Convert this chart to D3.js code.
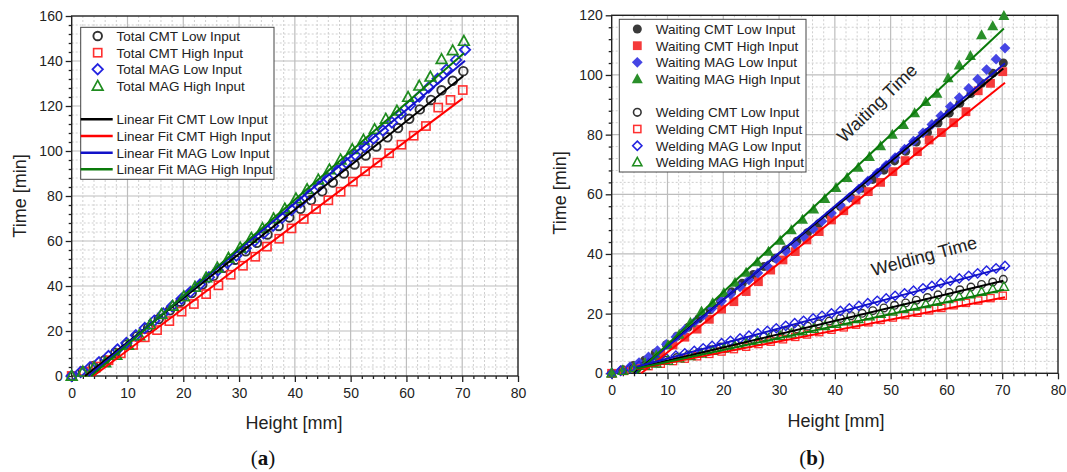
<!DOCTYPE html>
<html><head><meta charset="utf-8">
<script src="https://cdn.jsdelivr.net/npm/d3@7"></script>
<style>body{margin:0;background:#fff}svg{display:block}</style>
</head><body>
<svg id="c" width="1067" height="472"></svg>
<script>
// ---------------- DATA ----------------
const xTicks = [0,10,20,30,40,50,60,70,80];
const yTicksA = [0,20,40,60,80,100,120,140,160];
const yTicksB = [0,20,40,60,80,100,120];

// layer heights [mm]
const hCMTLow  = [0,2.0,3.9,5.9,7.8,9.8,11.7,13.7,15.6,17.6,19.5,21.5,23.4,25.4,27.3,29.3,31.2,33.2,35.1,37.1,39.0,41.0,42.9,44.9,46.8,48.8,50.7,52.7,54.6,56.6,58.5,60.5,62.4,64.4,66.3,68.3,70.2];
const hCMTHigh = [0,2.2,4.4,6.6,8.8,11.0,13.1,15.3,17.5,19.7,21.9,24.1,26.3,28.5,30.7,32.9,35.0,37.2,39.4,41.6,43.8,46.0,48.2,50.4,52.6,54.8,56.9,59.1,61.3,63.5,65.7,67.9,70.1];
const hMAGLow  = [0,1.6,3.3,4.9,6.6,8.2,9.8,11.5,13.1,14.8,16.4,18.0,19.7,21.3,23.0,24.6,26.2,27.9,29.5,31.2,32.8,34.4,36.1,37.7,39.4,41.0,42.6,44.3,45.9,47.6,49.2,50.8,52.5,54.1,55.8,57.4,59.0,60.7,62.3,64.0,65.6,67.2,68.9,70.5];
const hMAGHigh = [0,2.0,4.0,6.0,8.0,10.1,12.1,14.1,16.1,18.1,20.1,22.1,24.1,26.1,28.1,30.2,32.2,34.2,36.2,38.2,40.2,42.2,44.2,46.2,48.2,50.3,52.3,54.3,56.3,58.3,60.3,62.3,64.3,66.3,68.3,70.3];

// (a) total time [min]
const totCMTLow  = [0,2.1,4.4,7.0,10.3,14.0,17.7,21.5,25.3,29.2,33.0,36.9,40.7,44.5,48.1,51.7,55.4,59.2,62.9,66.7,70.5,74.3,78.2,82.1,86.0,90.0,94.0,98.0,102.0,106.1,110.2,114.3,118.5,122.7,127.0,131.2,135.5];
const totCMTHigh = [0,2.0,4.2,7.0,10.1,13.8,17.2,20.4,24.4,28.6,32.0,36.4,40.3,45.0,49.0,53.0,57.5,61.0,65.6,69.8,74.2,78.1,81.9,86.4,91.0,94.8,99.0,102.8,106.8,111.1,119.3,122.7,127.1];
const totMAGLow  = [0,1.8,3.9,6.1,8.9,11.8,14.7,18.1,21.3,24.6,27.8,31.0,34.3,37.4,40.7,43.9,47.0,50.2,53.5,56.8,60.1,63.4,66.8,70.3,73.8,77.2,80.7,84.3,87.9,91.4,94.8,98.3,101.9,105.5,109.1,112.7,116.5,120.4,124.2,128.2,132.1,136.2,140.5,145.0];
const totMAGHigh = [0,1.8,3.7,6.0,9.3,13.7,18.0,22.8,27.4,31.1,35.3,39.5,43.7,48.1,52.4,57.0,61.3,65.6,69.9,74.3,78.8,82.9,87.2,91.7,96.1,100.7,104.9,109.6,114.2,117.8,123.9,128.9,132.9,140.7,144.6,148.8];

// (b) waiting time [min]
const waitCMTLow  = [0,1.2,2.6,4.4,6.8,9.6,12.4,15.4,18.3,21.3,24.2,27.3,30.2,33.1,35.8,38.6,41.4,44.3,47.1,50.1,53.0,55.9,58.9,62.0,65.0,68.1,71.2,74.4,77.5,80.7,83.9,87.2,90.5,93.8,97.2,100.6,104.0];
const waitCMTHigh = [0,1.0,2.0,4.2,6.7,9.5,12.1,14.8,18.1,21.5,24.0,27.4,30.7,34.6,38.0,40.8,44.7,47.5,51.4,54.5,58.1,60.9,64.0,67.6,71.3,74.3,78.2,80.7,84.0,87.7,94.7,97.2,101.1];
const waitMAGLow  = [0,1.0,2.2,3.6,5.5,7.6,9.7,12.2,14.6,17.1,19.4,21.8,24.2,26.5,29.0,31.3,33.6,36.0,38.4,40.9,43.3,45.8,48.4,51.0,53.7,56.3,58.9,61.7,64.4,67.1,69.7,72.3,75.1,77.8,80.6,83.4,86.3,89.4,92.4,95.5,98.6,101.8,105.3,109.0];
const waitMAGHigh = [0,1.0,2.0,3.5,6.0,9.5,13.0,17.0,20.8,23.6,27.0,30.4,33.8,37.3,40.8,44.5,48.0,51.5,55.0,58.5,62.2,65.5,69.0,72.6,76.2,80.0,83.3,87.2,91.0,93.8,99.0,103.2,106.4,113.4,116.4,119.8];

// (b) welding time [min]
const weldCMTLow  = [0,0.9,1.8,2.6,3.5,4.4,5.3,6.1,7.0,7.9,8.8,9.6,10.5,11.4,12.3,13.1,14.0,14.9,15.8,16.6,17.5,18.4,19.3,20.1,21.0,21.9,22.8,23.6,24.5,25.4,26.3,27.1,28.0,28.9,29.8,30.6,31.5];
const weldCMTHigh = [0,0.8,1.6,2.4,3.2,4.1,4.9,5.7,6.5,7.3,8.1,8.9,9.8,10.6,11.4,12.2,13.0,13.8,14.6,15.4,16.3,17.1,17.9,18.7,19.5,20.3,21.1,21.9,22.8,23.6,24.4,25.2,26.0];
const weldMAGLow  = [0,0.8,1.7,2.5,3.4,4.2,5.0,5.9,6.7,7.5,8.4,9.2,10.1,10.9,11.7,12.6,13.4,14.2,15.1,15.9,16.8,17.6,18.4,19.3,20.1,20.9,21.8,22.6,23.5,24.3,25.1,26.0,26.8,27.7,28.5,29.3,30.2,31.0,31.8,32.7,33.5,34.4,35.2,36.0];
const weldMAGHigh = [0,0.8,1.7,2.5,3.3,4.2,5.0,5.8,6.6,7.5,8.3,9.1,9.9,10.8,11.6,12.5,13.3,14.1,14.9,15.8,16.6,17.4,18.2,19.1,19.9,20.7,21.6,22.4,23.2,24.0,24.9,25.7,26.5,27.3,28.2,29.0];

// linear fits: [x start, y start, x end, y end]
const fitTotCMTLow   = [2.4,0,70.2,133.3];
const fitTotCMTHigh  = [3.9,0,70.1,123.4];
const fitTotMAGLow   = [3.0,0,70.5,140.1];
const fitTotMAGHigh  = [3.5,0,70.3,143.4];
const fitWaitCMTLow  = [4.0,0,70.2,102.2];
const fitWaitCMTHigh = [5.3,0,70.5,97.4];
const fitWaitMAGLow  = [4.3,0,70.5,103.9];
const fitWaitMAGHigh = [4.5,0,70.3,115.6];
const fitWeldCMTLow  = [4.5,1.8,70.2,31.0];
const fitWeldCMTHigh = [4.5,1.4,70.5,25.5];
const fitWeldMAGLow  = [4.5,2.2,70.5,35.5];
const fitWeldMAGHigh = [4.5,1.6,70.3,28.0];

const legendA = ["Total CMT Low Input","Total CMT High Input","Total MAG Low Input","Total MAG High Input",
  "Linear Fit CMT Low Input","Linear Fit CMT High Input","Linear Fit MAG Low Input","Linear Fit MAG High Input"];
const legendB = ["Waiting CMT Low Input","Waiting CMT High Input","Waiting MAG Low Input","Waiting MAG High Input",
  "Welding CMT Low Input","Welding CMT High Input","Welding MAG Low Input","Welding MAG High Input"];

// ---------------- STYLE ----------------
const markCol = {black:"#333333", red:"#ff3030", blue:"#2424e0", green:"#1f8c1f"};
const fillCol = {black:"#3a3a3a", red:"#f53a3a", blue:"#4545e4", green:"#2a8f2a"};
const lineCol = {black:"#000000", red:"#ff0000", blue:"#1212c8", green:"#0a7a0a"};
const FONT = "'Liberation Sans', Arial, sans-serif";

const svg = d3.select("#c");

function drawMarker(g, shape, cx, cy, s, stroke, fill, sw){
  let el;
  if(shape==="circle"){
    el = g.append("circle").attr("cx",cx).attr("cy",cy).attr("r",s);
  } else if(shape==="square"){
    el = g.append("rect").attr("x",cx-s).attr("y",cy-s).attr("width",2*s).attr("height",2*s);
  } else if(shape==="diamond"){
    el = g.append("path").attr("d",`M${cx},${cy-s}L${cx+s},${cy}L${cx},${cy+s}L${cx-s},${cy}Z`);
  } else {
    el = g.append("path").attr("d",`M${cx},${cy-s}L${cx+s*0.95},${cy+s*0.72}L${cx-s*0.95},${cy+s*0.72}Z`);
  }
  el.attr("fill",fill).attr("stroke",stroke).attr("stroke-width",sw).attr("stroke-linejoin","miter");
  return el;
}

function drawPanel(cfg){
  const x = d3.scaleLinear().domain([0,80]).range([cfg.left, cfg.right]);
  const y = d3.scaleLinear().domain([0,cfg.ymax]).range([cfg.bottom, cfg.top]);
  const g = svg.append("g");

  // minor grid
  const xMinor = d3.range(0,80.001,2).filter(v=>v%10!==0);
  const yMinor = d3.range(0,cfg.ymax+0.001,4).filter(v=>v%20!==0);
  g.selectAll(".gxm").data(xMinor).join("line")
    .attr("x1",d=>x(d)).attr("x2",d=>x(d)).attr("y1",cfg.top).attr("y2",cfg.bottom)
    .attr("stroke","#cfcfcf").attr("stroke-width",1).attr("stroke-dasharray","2,2");
  g.selectAll(".gym").data(yMinor).join("line")
    .attr("y1",d=>y(d)).attr("y2",d=>y(d)).attr("x1",cfg.left).attr("x2",cfg.right)
    .attr("stroke","#cfcfcf").attr("stroke-width",1).attr("stroke-dasharray","2,2");
  // major grid
  g.selectAll(".gx").data(xTicks.slice(1,-1)).join("line")
    .attr("x1",d=>x(d)).attr("x2",d=>x(d)).attr("y1",cfg.top).attr("y2",cfg.bottom)
    .attr("stroke","#bdbdbd").attr("stroke-width",1.2);
  g.selectAll(".gy").data(cfg.yTicks.slice(1,-1)).join("line")
    .attr("y1",d=>y(d)).attr("y2",d=>y(d)).attr("x1",cfg.left).attr("x2",cfg.right)
    .attr("stroke","#bdbdbd").attr("stroke-width",1.2);

  // axes
  const axB = g.append("g").attr("transform",`translate(0,${cfg.bottom})`)
    .call(d3.axisBottom(x).tickValues(xTicks).tickSize(6).tickPadding(4).tickFormat(d3.format("d")));
  const axBm = g.append("g").attr("transform",`translate(0,${cfg.bottom})`)
    .call(d3.axisBottom(x).tickValues(xMinor).tickSize(3).tickFormat(""));
  const axL = g.append("g").attr("transform",`translate(${cfg.left},0)`)
    .call(d3.axisLeft(y).tickValues(cfg.yTicks).tickSize(6).tickPadding(3).tickFormat(d3.format("d")));
  const axLm = g.append("g").attr("transform",`translate(${cfg.left},0)`)
    .call(d3.axisLeft(y).tickValues(yMinor).tickSize(3).tickFormat(""));
  [axB,axBm,axL,axLm].forEach(a=>{
    a.select(".domain").remove();
    a.selectAll("line").attr("stroke","#222").attr("stroke-width",1.3);
    a.selectAll("text").attr("font-family",FONT).attr("font-size",14).attr("fill","#222");
  });
  axB.selectAll("text").attr("dy","0.85em");

  // frame
  g.append("rect").attr("x",cfg.left).attr("y",cfg.top)
    .attr("width",cfg.right-cfg.left).attr("height",cfg.bottom-cfg.top)
    .attr("fill","none").attr("stroke","#222").attr("stroke-width",1.4);

  // titles
  g.append("text").attr("transform",`translate(${cfg.yTitleX},${cfg.yTitleY}) rotate(-90)`)
    .attr("text-anchor","middle").attr("font-family",FONT).attr("font-size",18).attr("fill","#222")
    .text("Time [min]");
  g.append("text").attr("x",cfg.xTitleX).attr("y",cfg.xTitleY)
    .attr("text-anchor","middle").attr("font-family",FONT).attr("font-size",18).attr("fill","#222")
    .text("Height [mm]");
  g.append("text").attr("x",cfg.capX).attr("y",cfg.capY)
    .attr("text-anchor","middle").attr("font-family","'Liberation Serif','Times New Roman',serif")
    .attr("font-size",21).attr("fill","#111")
    .html(cfg.caption);

  const plot = g.append("g");
  // scatter
  cfg.scatter.forEach(sr=>{
    sr.h.forEach((hv,i)=>{
      drawMarker(plot, sr.shape, x(hv), y(sr.v[i]), sr.size,
        sr.filled ? "none" : markCol[sr.color],
        sr.filled ? fillCol[sr.color] : "none", sr.sw);
    });
  });
  // fits
  cfg.fits.forEach(f=>{
    plot.append("line").attr("x1",x(f.p[0])).attr("y1",y(f.p[1])).attr("x2",x(f.p[2])).attr("y2",y(f.p[3]))
      .attr("stroke",lineCol[f.color]).attr("stroke-width",2);
  });

  // legend
  const L = cfg.legend;
  const lg = g.append("g");
  lg.append("rect").attr("x",L.x0).attr("y",L.y0).attr("width",L.x1-L.x0).attr("height",L.y1-L.y0)
    .attr("fill","#fff").attr("stroke","#444").attr("stroke-width",1);
  L.items.forEach((it,i)=>{
    const ry = L.rows[i];
    if(it.kind==="line"){
      lg.append("line").attr("x1",L.x0).attr("x2",L.lineEnd).attr("y1",ry).attr("y2",ry)
        .attr("stroke",lineCol[it.color]).attr("stroke-width",2.6);
    } else {
      drawMarker(lg, it.shape, L.symX, ry, it.size, it.filled?"none":markCol[it.color],
        it.filled?fillCol[it.color]:"none", it.sw);
    }
    lg.append("text").attr("x",L.textX).attr("y",ry).attr("dy","0.36em")
      .attr("font-family",FONT).attr("font-size",13.5).attr("fill","#222").text(it.label);
  });
  return {x,y,g};
}

// ---------------- PANEL (a) ----------------
drawPanel({
  left:71.7, right:518, top:16, bottom:376, ymax:160, yTicks:yTicksA,
  yTitleX:26, yTitleY:196, xTitleX:294, xTitleY:429, capX:263, capY:465, caption:"(<tspan font-weight='bold'>a</tspan>)",
  scatter:[
    {h:hCMTLow,  v:totCMTLow,  shape:"circle",  color:"black", size:4.3, sw:1.9},
    {h:hCMTHigh, v:totCMTHigh, shape:"square",  color:"red",   size:4.1, sw:1.6},
    {h:hMAGLow,  v:totMAGLow,  shape:"diamond", color:"blue",  size:5.2, sw:1.8},
    {h:hMAGHigh, v:totMAGHigh, shape:"triangle",color:"green", size:5.6, sw:1.7}
  ],
  fits:[
    {p:fitTotCMTLow, color:"black"},{p:fitTotCMTHigh, color:"red"},
    {p:fitTotMAGLow, color:"blue"},{p:fitTotMAGHigh, color:"green"}
  ],
  legend:{x0:80.7,x1:274,y0:27.3,y1:179.3,symX:97.7,textX:116.5,lineEnd:112.7,
    rows:[36,52.7,69.3,86,119.3,136,152.7,169.3],
    items:[
      {label:legendA[0],shape:"circle",color:"black",size:4.3,sw:1.9},
      {label:legendA[1],shape:"square",color:"red",size:4.1,sw:1.6},
      {label:legendA[2],shape:"diamond",color:"blue",size:5.2,sw:1.8},
      {label:legendA[3],shape:"triangle",color:"green",size:5.6,sw:1.7},
      {label:legendA[4],kind:"line",color:"black"},
      {label:legendA[5],kind:"line",color:"red"},
      {label:legendA[6],kind:"line",color:"blue"},
      {label:legendA[7],kind:"line",color:"green"}
    ]}
});

// ---------------- PANEL (b) ----------------
drawPanel({
  left:611.7, right:1058, top:15.3, bottom:373.3, ymax:120, yTicks:yTicksB,
  yTitleX:566, yTitleY:193, xTitleX:836, xTitleY:427, capX:812, capY:465, caption:"(<tspan font-weight='bold'>b</tspan>)",
  scatter:[
    {h:hCMTLow,  v:waitCMTLow,  shape:"circle",  color:"black", size:4.5, sw:0, filled:true},
    {h:hCMTHigh, v:waitCMTHigh, shape:"square",  color:"red",   size:4.4, sw:0, filled:true},
    {h:hMAGLow,  v:waitMAGLow,  shape:"diamond", color:"blue",  size:5.4, sw:0, filled:true},
    {h:hMAGHigh, v:waitMAGHigh, shape:"triangle",color:"green", size:5.8, sw:0, filled:true},
    {h:hCMTLow,  v:weldCMTLow,  shape:"circle",  color:"black", size:3.8, sw:1.4},
    {h:hCMTHigh, v:weldCMTHigh, shape:"square",  color:"red",   size:3.6, sw:1.3},
    {h:hMAGLow,  v:weldMAGLow,  shape:"diamond", color:"blue",  size:4.6, sw:1.4},
    {h:hMAGHigh, v:weldMAGHigh, shape:"triangle",color:"green", size:4.9, sw:1.3}
  ],
  fits:[
    {p:fitWaitCMTLow, color:"black"},{p:fitWaitCMTHigh, color:"red"},
    {p:fitWaitMAGLow, color:"blue"},{p:fitWaitMAGHigh, color:"green"},
    {p:fitWeldCMTLow, color:"black"},{p:fitWeldCMTHigh, color:"red"},
    {p:fitWeldMAGLow, color:"blue"},{p:fitWeldMAGHigh, color:"green"}
  ],
  legend:{x0:619.3,x1:806,y0:19.3,y1:172,symX:637.3,textX:655.7,lineEnd:650,
    rows:[29,45.7,62.3,79,112.3,129,145.7,162.3],
    items:[
      {label:legendB[0],shape:"circle",color:"black",size:4.5,sw:0,filled:true},
      {label:legendB[1],shape:"square",color:"red",size:4.4,sw:0,filled:true},
      {label:legendB[2],shape:"diamond",color:"blue",size:5.4,sw:0,filled:true},
      {label:legendB[3],shape:"triangle",color:"green",size:5.8,sw:0,filled:true},
      {label:legendB[4],shape:"circle",color:"black",size:3.8,sw:1.6},
      {label:legendB[5],shape:"square",color:"red",size:3.6,sw:1.5},
      {label:legendB[6],shape:"diamond",color:"blue",size:4.6,sw:1.6},
      {label:legendB[7],shape:"triangle",color:"green",size:4.9,sw:1.5}
    ]}
});

// annotations
svg.append("text").attr("transform","translate(877,103) rotate(-44)")
  .attr("text-anchor","middle").attr("dy","0.35em").attr("font-family",FONT).attr("font-size",18).attr("fill","#222")
  .text("Waiting Time");
svg.append("text").attr("transform","translate(924,256) rotate(-15)")
  .attr("text-anchor","middle").attr("dy","0.35em").attr("font-family",FONT).attr("font-size",18).attr("fill","#222")
  .text("Welding Time");
</script>
</body></html>
